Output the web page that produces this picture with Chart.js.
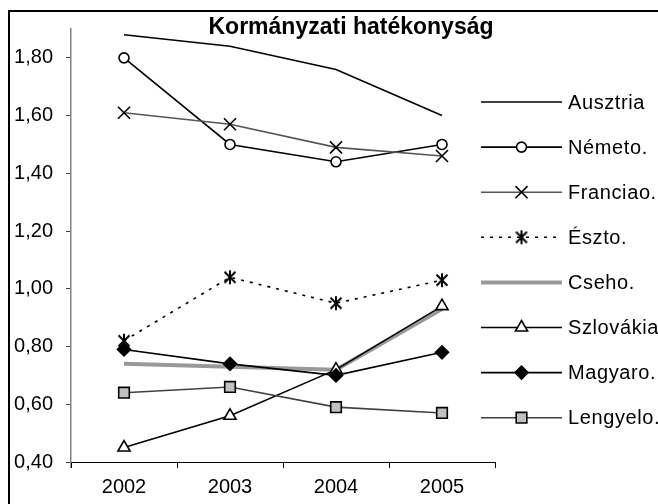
<!DOCTYPE html>
<html>
<head>
<meta charset="utf-8">
<script src="https://cdn.jsdelivr.net/npm/chart.js@4"></script>
<style>
  body { margin: 0; background: #fff; }
  canvas { display: block; }
</style>
</head>
<body>
<canvas id="myChart" width="658" height="504"></canvas>
<script>
var years = ["2002", "2003", "2004", "2005"];
var yTicks = [0.4, 0.6, 0.8, 1.0, 1.2, 1.4, 1.6, 1.8];

var ausztria = [1.88, 1.84, 1.76, 1.6];
var nemeto = [1.8, 1.5, 1.44, 1.5];
var franciao = [1.61, 1.57, 1.49, 1.46];
var eszto = [0.82, 1.04, 0.95, 1.03];
var cseho = [0.74, 0.73, 0.72, 0.93];
var szlovakia = [0.45, 0.56, 0.72, 0.94];
var magyaro = [0.79, 0.74, 0.7, 0.78];
var lengyelo = [0.64, 0.66, 0.59, 0.57];

var titleText = "Kormányzati hatékonyság";
var font = "'Liberation Sans', Arial, sans-serif";

// Excel style asterisk: an X with a vertical bar
function makeStar() {
  var c = document.createElement("canvas");
  c.width = 16;
  c.height = 16;
  var g = c.getContext("2d");
  g.strokeStyle = "#000";
  g.lineWidth = 2;
  g.beginPath();
  g.moveTo(8, 1); g.lineTo(8, 15);
  g.moveTo(2.5, 2.5); g.lineTo(13.5, 13.5);
  g.moveTo(13.5, 2.5); g.lineTo(2.5, 13.5);
  g.stroke();
  return c;
}

function series(label, data, opts) {
  return Object.assign({
    label: label,
    data: data,
    borderColor: "#000",
    borderWidth: 1.6,
    pointRadius: 0,
    pointBackgroundColor: "#fff",
    pointBorderColor: "#000",
    pointBorderWidth: 1.6,
    tension: 0,
  }, opts);
}

var datasets = [
  series("Ausztria", ausztria, {}),
  series("Németo.", nemeto, { pointStyle: "circle", pointRadius: 5 }),
  series("Franciao.", franciao, { borderColor: "#555", pointStyle: "crossRot", pointRadius: 8.5 }),
  series("Észto.", eszto, { borderDash: [3, 6], pointStyle: makeStar(), pointRadius: 7 }),
  series("Cseho.", cseho, { borderColor: "#999", borderWidth: 4 }),
  series("Szlovákia", szlovakia, { pointStyle: "triangle", pointRadius: 7 }),
  series("Magyaro.", magyaro, { pointStyle: "rectRot", pointRadius: 6.5, pointBackgroundColor: "#000" }),
  series("Lengyelo.", lengyelo, { borderColor: "#404040", pointStyle: "rect", pointRadius: 7.5, pointBackgroundColor: "#c0c0c0" }),
];
// later series drawn on top, like Excel
datasets.forEach(function (d, i) { d.order = datasets.length - i; });

var framePlugin = {
  id: "frame",
  beforeDraw: function (chart) {
    var ctx = chart.ctx;
    ctx.save();
    ctx.fillStyle = "#fff";
    ctx.fillRect(0, 0, chart.width, chart.height);
    ctx.strokeStyle = "#000";
    ctx.lineWidth = 2;
    ctx.strokeRect(9, 11, 700, 600);
    // y axis line runs a bit below the x axis, as in the original
    var a = chart.chartArea;
    ctx.strokeStyle = "#808080";
    ctx.lineWidth = 1.5;
    ctx.beginPath();
    ctx.moveTo(a.left, a.bottom);
    ctx.lineTo(a.left, a.bottom + 6);
    ctx.stroke();
    ctx.restore();
  },
  afterDraw: function (chart) {
    var ctx = chart.ctx;
    ctx.save();
    ctx.fillStyle = "#000";
    ctx.font = "bold 23px " + font;
    ctx.textAlign = "center";
    ctx.textBaseline = "middle";
    ctx.fillText(titleText, 351, 28);

    // legend: line with marker in the middle, like Excel
    var x0 = 481, x1 = 562, rowY = 102, rowH = 45.1;
    chart.data.datasets.forEach(function (ds, i) {
      var y = rowY + i * rowH;
      ctx.save();
      ctx.strokeStyle = ds.borderColor;
      ctx.lineWidth = ds.borderWidth;
      ctx.setLineDash(ds.borderDash || []);
      ctx.beginPath();
      ctx.moveTo(x0, y);
      ctx.lineTo(x1, y);
      ctx.stroke();
      ctx.restore();
      if (ds.pointRadius > 0) {
        ctx.save();
        ctx.fillStyle = ds.pointBackgroundColor;
        ctx.strokeStyle = ds.pointBorderColor;
        ctx.lineWidth = ds.pointBorderWidth;
        Chart.helpers.drawPoint(ctx, {
          pointStyle: ds.pointStyle,
          radius: ds.pointRadius,
          rotation: 0,
          borderWidth: ds.pointBorderWidth,
        }, (x0 + x1) / 2, y);
        ctx.restore();
      }
      ctx.fillStyle = "#000";
      ctx.font = "20px " + font;
      ctx.letterSpacing = "0.6px";
      ctx.textAlign = "left";
      ctx.textBaseline = "middle";
      ctx.fillText(ds.label, 568, y + 1);
    });
    ctx.restore();
  },
};

window.onload = function () {
  var ctx = document.getElementById("myChart").getContext("2d");
  new Chart(ctx, {
    type: "line",
    data: { labels: years, datasets: datasets },
    plugins: [framePlugin],
    options: {
      responsive: false,
      animation: false,
      devicePixelRatio: 1,
      layout: { padding: { left: 10, top: 29, right: 163, bottom: 0 } },
      plugins: {
        legend: { display: false },
        title: { display: false },
        tooltip: { enabled: false },
      },
      scales: {
        x: {
          offset: true,
          grid: { offset: true, drawOnChartArea: false, tickLength: 6, color: "#000" },
          border: { color: "#000", width: 1 },
          ticks: { color: "#000", font: { family: font, size: 20 }, padding: 7, maxRotation: 0 },
          afterFit: function (s) { s.height = 42; },
        },
        y: {
          min: 0.4,
          max: 1.9,
          grid: { drawOnChartArea: false, tickLength: 5, color: "#404040" },
          border: { color: "#808080", width: 1.5 },
          ticks: {
            color: "#000",
            font: { family: font, size: 20 },
            padding: 13,
            callback: function (v) { return v.toFixed(2).replace(".", ","); },
          },
          afterBuildTicks: function (s) {
            s.ticks = yTicks.map(function (v) { return { value: v }; });
          },
          afterFit: function (s) { s.width = 61; },
        },
      },
    },
  });
};
</script>
</body>
</html>
